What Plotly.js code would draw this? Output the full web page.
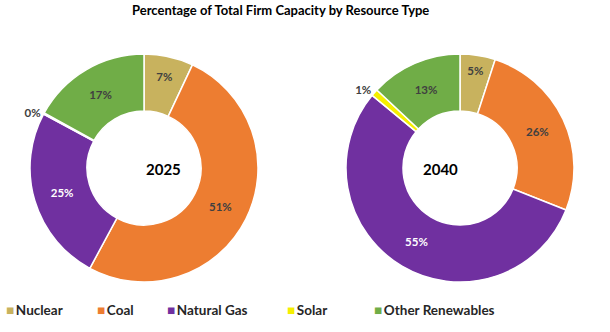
<!DOCTYPE html>
<html>
<head>
<meta charset="utf-8">
<script src="https://cdn.plot.ly/plotly-3.0.1.min.js"></script>
<style>html,body{margin:0;padding:0;background:#fff;}#chart{width:610px;height:332px;}</style>
</head>
<body>
<div id="chart"></div>
<script>
// ---- data ----
const categories = ["Nuclear", "Coal", "Natural Gas", "Solar", "Other Renewables"];
const values2025 = [7, 51, 25, 0.2, 17];
const values2040 = [5, 26, 55, 1, 13];
const labels2025 = ["7%", "51%", "25%", "0%", "17%"];
const labels2040 = ["5%", "26%", "55%", "1%", "13%"];
const years = ["2025", "2040"];
const colors = ["#C8B25E", "#ED7D31", "#7030A0", "#F5EF00", "#70AD47"];
const titleText = "Percentage of Total Firm Capacity by Resource Type";

// ---- style ----
const FONT = "Lato, 'Open Sans', sans-serif";
const textColors = ["#404040", "#404040", "#ffffff", "#404040", "#404040"];

function donut(vals, labs, dom, positions) {
  return {
    type: "pie",
    labels: categories,
    values: vals,
    text: labs,
    textinfo: "text",
    textposition: positions,
    insidetextorientation: "horizontal",
    hole: 0.5,
    sort: false,
    direction: "clockwise",
    rotation: 0,
    marker: {colors: colors, line: {color: "#ffffff", width: 1.5}},
    insidetextfont: {family: FONT, size: 11.5, color: textColors, weight: "bold"},
    outsidetextfont: {family: FONT, size: 11.5, color: "#404040", weight: "bold"},
    domain: dom,
    showlegend: false,
    automargin: false
  };
}

const data = [
  donut(values2025, labels2025, {x: [30/610, 258/610], y: [1 - 282/332, 1 - 54/332]},
        ["inside", "inside", "inside", "outside", "inside"]),
  donut(values2040, labels2040, {x: [346/610, 574/610], y: [1 - 282/332, 1 - 54/332]},
        ["inside", "inside", "inside", "outside", "inside"])
];

const annotations = [
  {text: "<b>" + titleText + "</b>", x: 280/610, y: 1 - 10/332, xref: "paper", yref: "paper",
   yanchor: "middle", showarrow: false, font: {family: FONT, size: 13, color: "#000"}},
  {text: "<b>" + years[0] + "</b>", x: 144/610, y: 1 - 169/332, xref: "paper", yref: "paper",
   showarrow: false, font: {family: FONT, size: 15, color: "#000"}},
  {text: "<b>" + years[1] + "</b>", x: 460/610, y: 1 - 169/332, xref: "paper", yref: "paper",
   showarrow: false, font: {family: FONT, size: 15, color: "#000"}}
];

// legend built from categories/colors
const legendX = [4, 95, 165, 285, 372];
categories.forEach((c, i) => {
  annotations.push({
    text: "<span style='color:" + colors[i] + "'>■</span>\u2009<b>" + c + "</b>",
    x: legendX[i] / 610, y: 1 - 310/332, xref: "paper", yref: "paper",
    xanchor: "left", yanchor: "middle", showarrow: false,
    font: {family: FONT, size: 13.5, color: "#262626"}
  });
});

const layout = {
  width: 610, height: 332,
  margin: {l: 0, r: 0, t: 0, b: 0},
  paper_bgcolor: "#ffffff",
  showlegend: false,
  annotations: annotations
};

Plotly.newPlot("chart", data, layout, {displayModeBar: false, staticPlot: true});
</script>
</body>
</html>
